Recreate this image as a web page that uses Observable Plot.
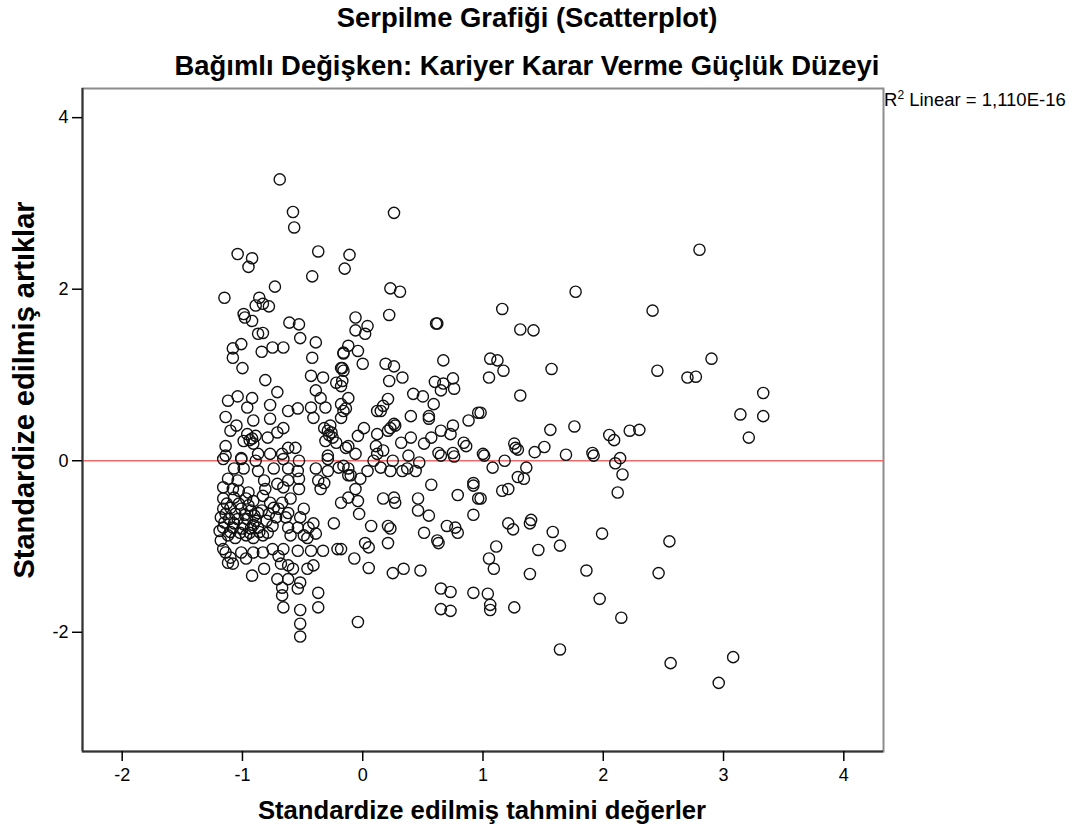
<!DOCTYPE html>
<html><head><meta charset="utf-8">
<script src="https://cdn.jsdelivr.net/npm/d3@7"></script>
<script src="https://cdn.jsdelivr.net/npm/@observablehq/plot@0.6"></script>
<style>
body{margin:0;background:#fff;font-family:"Liberation Sans",Arial,sans-serif;}
#wrap{position:relative;width:1079px;height:834px;overflow:hidden;background:#fff;}
#chart{position:absolute;left:0;top:0;}
.lab{position:absolute;line-height:1;white-space:nowrap;color:#000;}
.t{left:527px;transform:translate(-50%,-50%);font-weight:bold;font-size:27.4px;}
#xlab{left:482px;top:811px;transform:translate(-50%,-50%);font-weight:bold;font-size:25.7px;}
#ylab{left:24px;top:390px;transform:translate(-50%,-50%) rotate(-90deg);font-weight:bold;font-size:29px;}
#r2{left:884px;top:91px;font-size:18.5px;}
#r2 .sup{font-size:12px;position:relative;top:-7px;}
</style></head>
<body>
<div id="wrap">
  <div id="chart"></div>
  <div class="lab t" style="top:18px">Serpilme Grafiği (Scatterplot)</div>
  <div class="lab t" style="top:66px">Bağımlı Değişken: Kariyer Karar Verme Güçlük Düzeyi</div>
  <div class="lab" id="r2">R<span class="sup">2</span> Linear = 1,110E-16</div>
  <div class="lab" id="xlab">Standardize edilmiş tahmini değerler</div>
  <div class="lab" id="ylab">Standardize edilmiş artıklar</div>
</div>
<script>
const xTicks = [-2, -1, 0, 1, 2, 3, 4];
const yTicks = [-2, 0, 2, 4];
const xDomain = [-2.33, 4.33];
const yDomain = [-3.39, 4.34];

// upper sparse
const predA = [-0.69,-0.58,-0.57,0.26,-1.04,-0.92,-0.95,-0.37,-0.11,-0.15,-0.42,-0.73,0.23,0.31,-1.15,-0.86];
const residA = [3.28,2.90,2.72,2.89,2.41,2.36,2.26,2.44,2.40,2.24,2.15,2.03,2.01,1.97,1.90,1.90];
// right, above zero
const predB = [2.80,1.77,1.16,2.41,1.31,1.42,1.06,1.12,1.17,1.05,1.57,2.90,2.45,2.70,2.77,1.31,3.33,3.14,3.33,3.21,0.98,1.56,1.76,2.22,2.30,2.05,2.09,1.26,1.27,1.29,1.51,1.43,1.69,1.91,1.92,2.14,1.01,1.18,1.08,1.36,2.10];
const residB = [2.46,1.97,1.77,1.75,1.53,1.52,1.19,1.17,1.05,0.97,1.07,1.19,1.05,0.97,0.98,0.76,0.79,0.54,0.52,0.27,0.56,0.36,0.40,0.35,0.36,0.30,0.24,0.20,0.15,0.13,0.16,0.10,0.07,0.09,0.06,0.03,0.06,0.00,-0.08,-0.08,-0.03];
// right, below zero
const predC = [2.16,2.12,1.29,1.34,1.16,1.21,0.98,1.21,1.25,1.40,1.39,1.58,1.99,2.55,1.11,1.46,1.64,1.05,1.09,1.39,1.86,2.46,1.04,1.06,1.06,1.26,1.97,2.15,1.64,2.56,3.08,2.96];
const residC = [-0.16,-0.37,-0.19,-0.21,-0.35,-0.33,-0.44,-0.73,-0.80,-0.69,-0.73,-0.83,-0.85,-0.94,-1.00,-1.04,-0.99,-1.14,-1.26,-1.32,-1.28,-1.31,-1.55,-1.68,-1.74,-1.71,-1.61,-1.83,-2.20,-2.36,-2.29,-2.59];
// left, above zero
const predD = [-0.89,-0.83,-0.78,-0.99,-0.98,-0.92,-0.61,-0.53,-0.87,-0.83,
  -0.52,-0.39,-1.01,-1.08,-1.08,-0.84,-0.75,-0.66,-1.00,-0.42,
  -0.16,-0.17,-0.43,-0.33,-0.22,-0.81,-0.71,-0.39,-1.12,-1.04,
  -0.92,-0.96,-0.77,-1.14,-0.62,-0.54,-0.43,-0.35,-0.31,-0.91,
  -0.77,-0.96,-0.92,-0.71,-0.66,-0.79,-0.41,-0.32,-0.29,-0.25,
  -0.22,-0.18,-0.16,-1.14,-1.14,-1.01,-0.87,-0.77,-0.67,-0.62,
  -0.56,-0.29,-0.14,-0.91,-0.99,-0.27,-0.31,-1.10,-1.05,
  -0.28,-0.26,-0.94,-0.89];
const residD = [1.81,1.83,1.80,1.71,1.67,1.63,1.61,1.59,1.48,1.49,
  1.43,1.38,1.36,1.31,1.20,1.27,1.32,1.32,1.08,1.20,
  1.26,1.08,0.99,0.97,0.91,0.94,0.80,0.82,0.70,0.75,
  0.73,0.62,0.65,0.51,0.58,0.61,0.62,0.73,0.62,0.47,
  0.49,0.31,0.26,0.33,0.38,0.27,0.50,0.38,0.35,0.27,
  0.21,0.50,0.58,0.17,0.06,0.03,0.08,0.08,0.08,0.15,
  0.15,0.06,0.15,0.20,0.23,0.41,0.23,0.35,0.41,
  0.30,0.33,0.24,0.29];
// left, below zero (dense)
const predE = [-1.16,-1.01,-0.89,-0.66,-0.53,-0.29,-0.16,-0.12,
  -1.07,-0.99,-0.87,-0.74,-0.62,-0.54,-0.39,-0.29,-0.20,
  -1.12,-1.04,-0.82,-0.71,-0.62,-0.53,-0.37,-0.32,
  -1.16,-1.08,-0.81,-0.66,-0.53,-0.35,
  -1.16,-1.07,-0.97,-0.91,-1.16,-1.10,-1.01,-0.93,-0.87,-1.18,
  -1.11,-1.04,-0.96,-0.89,-1.16,-1.08,-1.00,-0.93,-0.87,-1.12,
  -1.06,-0.97,-0.91,-0.83,-0.79,-0.75,-0.72,-0.74,-0.67,-0.77,
  -0.70,-0.62,-0.60,
  -0.49,-0.64,-0.52,-0.41,-0.45,-0.54,-0.62,-0.60,-0.49,-0.39,-0.46,-0.24,-0.21,-0.33,
  -0.43,-0.54,-0.66,-0.75,-0.83,-0.91,-1.14,-1.08,-1.10,-0.97,-1.01,
  -0.92,-0.82,-0.70,-0.68,-0.62,-0.58,-0.46,-0.41,-0.71,-0.62,-0.52,-0.67,-0.54,-0.67,-0.37,-0.37,-0.66,-0.52,-0.52,-0.52,
  -1.16,-1.12,-1.18,-1.03,-0.95,-0.83,-1.19,
  -1.13,-1.03,-0.95,-1.14,-1.06,-0.98,-0.90,-1.15,-1.07,-0.99,-0.91,-1.10,-1.02,-0.94,-0.86,-0.80,-0.84,-0.78];
const residE = [0.02,0.02,0.00,0.02,0.00,0.02,-0.06,-0.17,
  -0.09,-0.09,-0.12,-0.09,-0.09,-0.12,-0.09,-0.12,-0.08,
  -0.21,-0.23,-0.23,-0.27,-0.23,-0.21,-0.23,-0.26,
  -0.31,-0.33,-0.33,-0.31,-0.33,-0.33,
  -0.44,-0.43,-0.44,-0.47,-0.56,-0.55,-0.56,-0.58,-0.61,-0.66,
  -0.68,-0.68,-0.68,-0.70,-0.78,-0.78,-0.79,-0.79,-0.78,-0.87,
  -0.90,-0.87,-0.90,-0.87,-0.84,-0.76,-0.66,-0.55,-0.49,-0.49,
  -0.56,-0.61,-0.44,
  -0.56,-0.66,-0.66,-0.73,-0.78,-0.78,-0.78,-0.87,-0.87,-0.85,-0.90,-0.73,-1.03,-1.05,
  -1.05,-1.05,-1.03,-1.03,-1.07,-1.07,-1.07,-1.20,-1.13,-1.14,-1.07,
  -1.34,-1.26,-1.11,-1.20,-1.22,-1.26,-1.26,-1.22,-1.38,-1.38,-1.42,-1.48,-1.49,-1.57,-1.54,-1.71,-1.71,-1.74,-1.90,-2.05,
  -1.03,-1.19,-0.93,-0.35,-0.37,-0.41,-0.82,
  -0.50,-0.50,-0.52,-0.62,-0.62,-0.63,-0.64,-0.72,-0.73,-0.74,-0.75,-0.83,-0.84,-0.84,-0.83,-0.70,-0.58,-0.62];
// middle, above zero
const predF = [-0.06,0.22,0.61,0.62,-0.06,0.04,0.02,-0.12,-0.04,-0.16,
  0.00,-0.18,-0.16,-0.17,-0.18,0.19,0.26,0.22,0.33,0.67,
  0.60,0.67,0.75,0.76,0.65,0.42,0.50,0.59,0.21,0.17,
  0.15,0.12,-0.12,-0.14,-0.18,0.40,0.55,0.55,0.26,0.23,
  0.27,0.96,0.88,0.75,0.65,0.73,0.84,0.86,0.01,-0.04,
  0.12,0.21,0.40,0.57,0.51,-0.12,-0.06,0.11,0.32,0.38,
  0.63,0.75,1.00,0.12,0.17];
const residF = [1.67,1.70,1.60,1.60,1.52,1.57,1.48,1.34,1.28,1.25,
  1.13,1.08,1.05,0.93,0.87,1.13,1.10,0.93,0.97,1.17,
  0.92,0.90,0.96,0.84,0.82,0.78,0.75,0.66,0.72,0.64,
  0.58,0.58,0.73,0.61,0.66,0.52,0.52,0.49,0.43,0.38,
  0.41,0.56,0.47,0.41,0.35,0.31,0.21,0.17,0.38,0.29,
  0.31,0.35,0.27,0.27,0.20,0.17,0.08,0.17,0.21,0.06,
  0.09,0.09,0.08,0.08,0.12];
// middle, below zero
const predG = [0.09,0.25,0.47,0.65,0.76,-0.12,-0.10,0.04,0.15,0.23,
  0.33,0.37,0.44,-0.02,0.57,0.92,0.92,0.79,0.96,0.92,
  -0.06,-0.12,-0.04,-0.18,0.17,0.26,0.27,0.46,0.46,0.55,
  -0.03,0.07,0.21,0.23,0.51,0.62,0.63,0.70,0.77,0.79,
  0.02,0.05,0.21,-0.18,-0.07,0.05,0.25,0.34,0.48,0.65,
  0.73,0.65,0.73,0.92,-0.04];
const residG = [0.00,0.00,-0.02,0.06,0.05,-0.09,-0.17,-0.12,-0.08,-0.12,
  -0.12,-0.09,-0.12,-0.21,-0.28,-0.26,-0.29,-0.40,-0.44,-0.63,
  -0.33,-0.43,-0.47,-0.49,-0.44,-0.43,-0.49,-0.44,-0.58,-0.64,
  -0.62,-0.76,-0.76,-0.79,-0.84,-0.93,-0.96,-0.76,-0.78,-0.84,
  -0.96,-1.01,-0.96,-1.03,-1.14,-1.25,-1.31,-1.26,-1.28,-1.49,
  -1.53,-1.73,-1.75,-1.54,-1.88];

const predicted = [].concat(predA, predB, predC, predD, predE, predF, predG);
const residuals = [].concat(residA, residB, residC, residD, residE, residF, residG);
const data = predicted.map((p, i) => ({pred: p, resid: residuals[i]}));

const fmt = d => `${d}`;
const chart = Plot.plot({
  width: 1079,
  height: 834,
  marginLeft: 82,
  marginRight: 196,
  marginTop: 88,
  marginBottom: 83,
  x: {domain: xDomain},
  y: {domain: yDomain},
  style: {fontFamily: "'Liberation Sans', Arial, sans-serif", fontSize: "18px", color: "#000", background: "transparent"},
  marks: [
    Plot.frame({stroke: "#8c8c8c", strokeWidth: 2}),
    Plot.ruleY([0], {stroke: "#ef6b6b", strokeWidth: 1.5}),
    Plot.dot(data, {x: "pred", y: "resid", r: 5.6, stroke: "#111", strokeWidth: 1.4, fill: "none"}),
    Plot.ruleX([xDomain[0]], {stroke: "#333", strokeWidth: 2}),
    Plot.ruleY([yDomain[0]], {stroke: "#333", strokeWidth: 2}),
    Plot.axisX({ticks: xTicks, tickSize: 10, tickPadding: 7, tickFormat: fmt, label: null, strokeWidth: 1.5}),
    Plot.axisY({ticks: yTicks, tickSize: 10, tickPadding: 4, tickFormat: fmt, label: null, strokeWidth: 1.5})
  ]
});
document.getElementById("chart").appendChild(chart);
</script>
</body></html>
